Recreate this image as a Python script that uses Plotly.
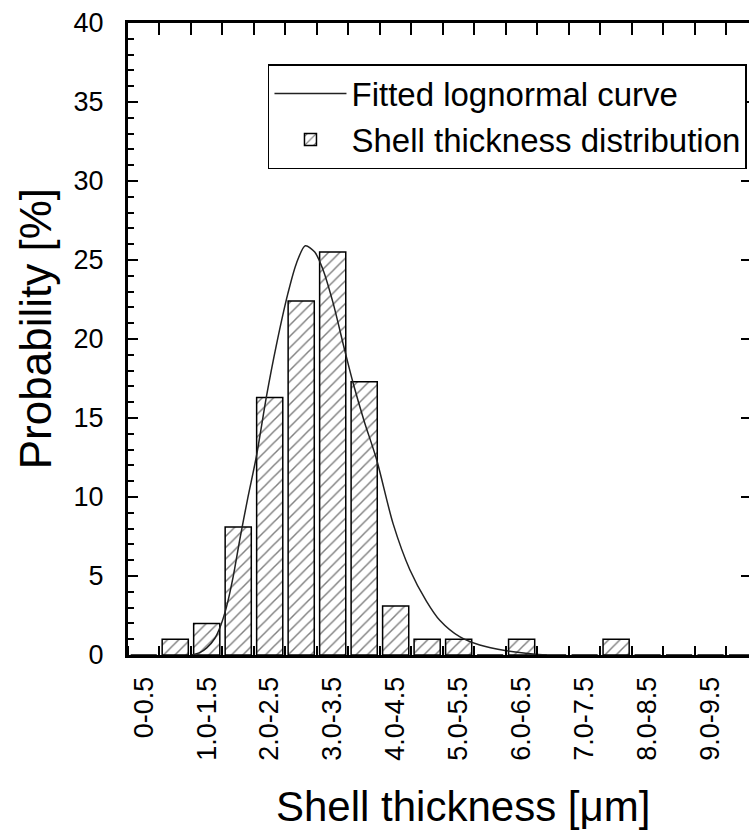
import plotly.graph_objects as go

# ---- data ----
categories = ["0-0.5", "0.5-1.0", "1.0-1.5", "1.5-2.0", "2.0-2.5", "2.5-3.0", "3.0-3.5",
              "3.5-4.0", "4.0-4.5", "4.5-5.0", "5.0-5.5", "5.5-6.0", "6.0-6.5", "6.5-7.0",
              "7.0-7.5", "7.5-8.0", "8.0-8.5", "8.5-9.0", "9.0-9.5", "9.5-10.0"]
probability = [0, 1.0, 2.0, 8.1, 16.3, 22.4, 25.5, 17.3, 3.1, 1.0,
               1.0, 0, 1.0, 0, 0, 1.0, 0, 0, 0, 0]

# fitted lognormal curve (x in category-index units)
curve_x = [1.5, 1.78, 2.0, 2.26, 2.45, 2.63, 2.84, 3.05, 3.3, 3.58, 3.9, 4.21, 4.58,
           4.85, 5.13, 5.43, 5.69, 6.01, 6.38, 6.65, 7.0, 7.39, 7.92, 8.45, 8.98,
           9.4, 10.03, 10.67, 11.52, 12.36, 12.8]
curve_y = [0, 0.15, 0.45, 1.06, 1.9, 3.06, 4.96, 7.3, 9.9, 12.6, 16.4, 19.6, 22.9,
           24.8, 25.9, 25.5, 24.4, 22.3, 19.3, 17.2, 14.8, 12.4, 8.3, 5.4, 3.4,
           2.2, 1.16, 0.63, 0.27, 0.06, 0.0]

FONT = "Liberation Sans, Arial, sans-serif"

idx = list(range(len(categories)))
label_alias = {i: categories[i] for i in idx[::2]}
xrange_ = [-0.5, 19.22]
yrange_ = [0, 40]

fig = go.Figure()

fig.add_trace(go.Bar(
    x=idx, y=probability,
    name="Shell thickness distribution",
    legendrank=2,
    marker=dict(color="white",
                line=dict(color="black", width=1.5),
                pattern=dict(shape="/", fgcolor="black", bgcolor="white",
                             size=8, solidity=0.18)),
))

fig.add_trace(go.Scatter(
    x=curve_x, y=curve_y, mode="lines",
    name="Fitted lognormal curve",
    legendrank=1,
    line=dict(color="#222222", width=1.5, shape="spline", smoothing=0.8),
))

# empty helper traces so the mirrored top / right frame axes get drawn
fig.add_trace(go.Scatter(x=[None], y=[None], xaxis="x2", yaxis="y",
                         showlegend=False, hoverinfo="skip"))
fig.add_trace(go.Scatter(x=[None], y=[None], xaxis="x", yaxis="y2",
                         showlegend=False, hoverinfo="skip"))

fig.update_layout(
    width=749, height=834,
    margin=dict(l=128, r=0, t=23, b=179),
    paper_bgcolor="white", plot_bgcolor="white",
    font=dict(family=FONT, color="black"),
    bargap=0.17,
    showlegend=True,
    legend=dict(x=0.2254, y=0.935, xanchor="left", yanchor="top",
                bordercolor="black", borderwidth=1.5, bgcolor="white",
                itemwidth=72,
                font=dict(size=33, family=FONT, color="black")),
    xaxis=dict(range=xrange_, tickmode="linear", tick0=0, dtick=2,
               labelalias=label_alias,
               tickangle=-90, tickfont=dict(size=27, family=FONT),
               ticks="", ticklabelstandoff=8,
               minor=dict(tickmode="linear", tick0=-0.5, dtick=1, ticks="inside",
                          ticklen=9, tickwidth=1.5, tickcolor="black"),
               showline=True, linecolor="black", linewidth=3,
               showgrid=False, zeroline=False),
    xaxis2=dict(range=xrange_, overlaying="x", side="top", anchor="y",
                tickmode="linear", tick0=-0.5, dtick=1, ticks="inside",
                ticklen=12, tickwidth=1.5, tickcolor="black",
                showticklabels=False, showline=True, linecolor="black",
                linewidth=2.5, showgrid=False, zeroline=False),
    yaxis=dict(range=yrange_, tickmode="linear", tick0=0, dtick=5,
               ticks="inside", ticklen=10, tickwidth=1.5, tickcolor="black",
               minor=dict(tickmode="linear", tick0=0, dtick=1, ticks="inside",
                          ticklen=6, tickwidth=1.5, tickcolor="black"),
               tickfont=dict(size=27, family=FONT), ticklabelstandoff=16,
               showline=True, linecolor="black", linewidth=3,
               showgrid=False, zeroline=False),
    yaxis2=dict(range=yrange_, overlaying="y", side="right", anchor="x",
                tickmode="linear", tick0=0, dtick=5, ticks="inside",
                ticklen=8, tickwidth=1.5, tickcolor="black",
                showticklabels=False, showline=True, linecolor="black",
                linewidth=2, showgrid=False, zeroline=False),
    annotations=[
        dict(text="Probability [%]", xref="paper", yref="paper",
             x=-0.1498, y=0.517, xanchor="center", yanchor="middle",
             textangle=-90, showarrow=False,
             font=dict(size=44, family=FONT, color="black")),
        dict(text="Shell thickness [μm]", xref="paper", yref="paper",
             x=0.5395, y=-0.2405, xanchor="center", yanchor="middle",
             showarrow=False, font=dict(size=42, family=FONT, color="black")),
    ],
)

fig.write_html("out.html")
